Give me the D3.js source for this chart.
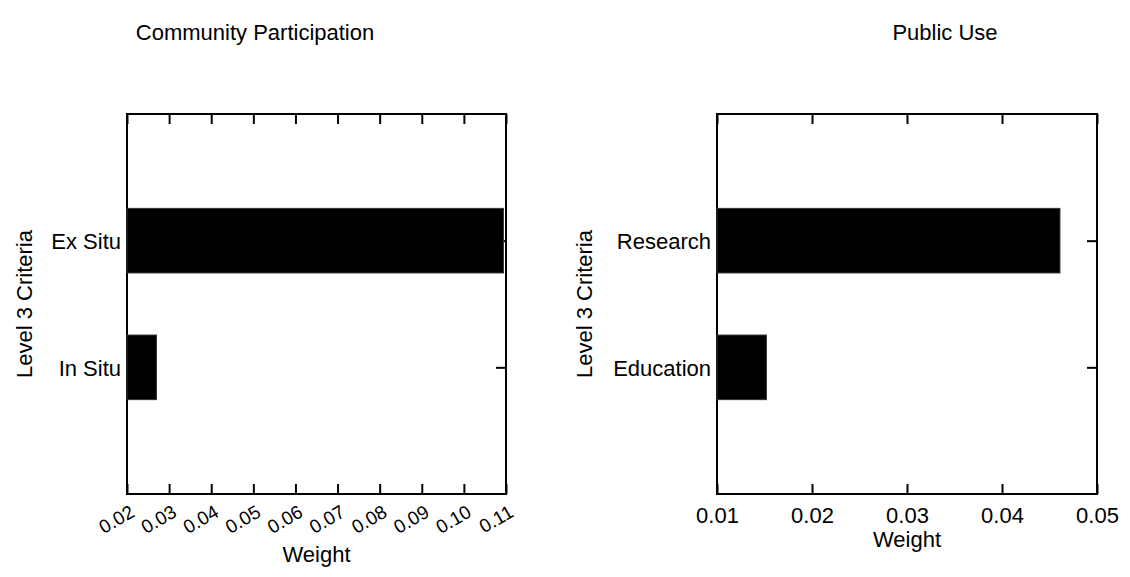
<!DOCTYPE html>
<html>
<head>
<meta charset="utf-8">
<script src="https://cdn.jsdelivr.net/npm/d3@7/dist/d3.min.js"></script>
<style>
  html, body { margin: 0; padding: 0; background: #fff; }
  svg { display: block; font-family: "Liberation Sans", Arial, Helvetica, sans-serif; }
  .domain { stroke: #000; stroke-width: 2; }
  .tick line { stroke: #000; stroke-width: 2; }
</style>
</head>
<body>
<svg id="chart" width="1130" height="577"></svg>
<script>
// Community Participation panel
const cpCategories = ["In Situ", "Ex Situ"];
const cpValues = [0.0270, 0.1094];
const cpTicks = [0.02, 0.03, 0.04, 0.05, 0.06, 0.07, 0.08, 0.09, 0.10, 0.11];

// Public Use panel
const puCategories = ["Education", "Research"];
const puValues = [0.0152, 0.0461];
const puTicks = [0.01, 0.02, 0.03, 0.04, 0.05];

const svg = d3.select("#chart");
const FONT = 22;

function panel(opts) {
  const { left, right, top, bottom, title, titleX, categories, values, ticks, fmt, rotate, xLabelY, yLabelX } = opts;
  const x = d3.scaleLinear().domain([ticks[0], ticks[ticks.length - 1]]).range([left, right]);
  // category slots 1..n inside [0, n+1], first category at the bottom
  const y = d3.scaleLinear().domain([0, categories.length + 1]).range([bottom, top]);
  const pos = categories.map((c, i) => i + 1);
  const barH = 0.51;
  const g = svg.append("g");

  // box axes with inward ticks
  const bx = g.append("g").attr("transform", `translate(0,${bottom})`)
    .call(d3.axisBottom(x).tickValues(ticks).tickFormat(fmt).tickSizeInner(-10).tickSizeOuter(0).tickPadding(rotate ? 8 : 13.5));
  g.append("g").attr("transform", `translate(0,${top})`)
    .call(d3.axisTop(x).tickValues(ticks).tickFormat("").tickSizeInner(-10).tickSizeOuter(0));
  const ly = g.append("g").attr("transform", `translate(${left},0)`)
    .call(d3.axisLeft(y).tickValues(pos).tickFormat((d, i) => categories[i]).tickSizeInner(-10).tickSizeOuter(0).tickPadding(6));
  g.append("g").attr("transform", `translate(${right},0)`)
    .call(d3.axisRight(y).tickValues(pos).tickFormat("").tickSizeInner(-10).tickSizeOuter(0));

  ly.selectAll("text").attr("font-size", FONT).attr("fill", "#000").attr("font-family", null).attr("dy", "0.36em");
  bx.selectAll("text").attr("font-size", FONT).attr("fill", "#000").attr("font-family", null);
  if (rotate) {
    bx.selectAll(".tick text")
      .attr("font-size", 19)
      .attr("text-anchor", "end")
      .attr("y", 0).attr("dy", "0.35em")
      .attr("transform", "translate(5,16) rotate(-30)");
  }
  g.selectAll(".domain").remove();
  g.append("rect").attr("x", left).attr("y", top).attr("width", right - left).attr("height", bottom - top)
    .attr("fill", "none").attr("stroke", "#000").attr("stroke-width", 2);

  // bars
  g.append("g").selectAll("rect").data(values).join("rect")
    .attr("x", x(ticks[0]))
    .attr("y", (d, i) => y(pos[i] + barH / 2))
    .attr("width", d => x(d) - x(ticks[0]))
    .attr("height", (d, i) => y(pos[i] - barH / 2) - y(pos[i] + barH / 2))
    .attr("fill", "#000").attr("stroke", "#333").attr("stroke-width", 1);

  // labels
  g.append("text").attr("x", titleX).attr("y", 40).attr("text-anchor", "middle")
    .attr("font-size", FONT).text(title);
  g.append("text").attr("x", (left + right) / 2).attr("y", xLabelY).attr("text-anchor", "middle")
    .attr("font-size", FONT).text("Weight");
  g.append("text").attr("transform", `translate(${yLabelX},${(top + bottom) / 2}) rotate(-90)`)
    .attr("text-anchor", "middle").attr("font-size", FONT).text("Level 3 Criteria");
}

panel({
  left: 127, right: 506, top: 114, bottom: 494,
  title: "Community Participation", titleX: 255,
  categories: cpCategories, values: cpValues, ticks: cpTicks,
  fmt: d3.format(".2f"), rotate: true, xLabelY: 562, yLabelX: 32
});

panel({
  left: 717, right: 1097, top: 114, bottom: 494,
  title: "Public Use", titleX: 945,
  categories: puCategories, values: puValues, ticks: puTicks,
  fmt: d3.format(".2f"), rotate: false, xLabelY: 547, yLabelX: 592
});
</script>
</body>
</html>
